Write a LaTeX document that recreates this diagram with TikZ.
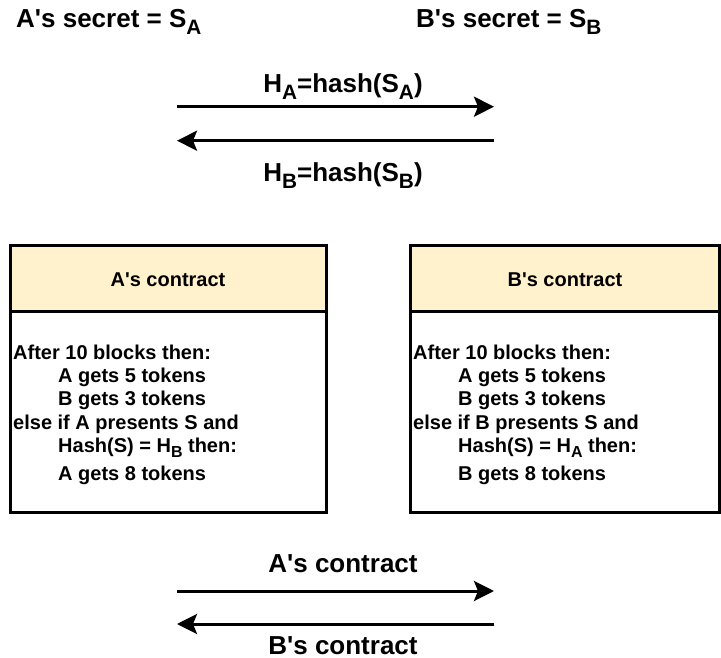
\documentclass[tikz,border=0pt]{standalone}
\usepackage{fontspec}
\setmainfont{Liberation Sans}
\usetikzlibrary{arrows.meta}
\definecolor{hdr}{HTML}{FFF2CC}
\newcommand\subx[1]{\raisebox{-0.25em}{\scalebox{0.8}{#1}}}
\newcommand\ap{\textquotesingle}
\newcommand\bigf{\fontsize{26}{30}\selectfont\bfseries}
\newcommand\midf{\fontsize{20}{23.3}\selectfont\bfseries}
\tikzset{
  lbl/.style={inner sep=0pt, anchor=base, font=\bigf},
  flow/.style={line width=3pt, -{Stealth[length=20pt,width=20pt,inset=4pt]}},
  frame/.style={draw=black, line width=3pt},
  hdrbox/.style={frame, fill=hdr},
  hdrtxt/.style={inner sep=0pt, anchor=base, font=\midf},
  body/.style={inner sep=0pt, anchor=base west, font=\midf},
}
\begin{document}
\begin{tikzpicture}[x=1pt,y=-1pt]
\useasboundingbox (0,0) rectangle (721,658);
% secrets
\node[lbl, anchor=base west] (sa) at (16,28) {A\ap s secret = S\subx{A}};
\node[lbl, anchor=base west] (sb) at (416,28) {B\ap s secret = S\subx{B}};
% hash exchange
\node[lbl] (ha) at (343,93) {H\subx{A}=hash(S\subx{A})};
\node[lbl] (hb) at (343,182) {H\subx{B}=hash(S\subx{B})};
\coordinate (h1l) at (177,106.7);
\coordinate (h1r) at (494,106.7);
\coordinate (h2l) at (177,140.7);
\coordinate (h2r) at (494,140.7);
\draw[flow] (h1l) -- (h1r);
\draw[flow] (h2r) -- (h2l);
% A's contract box
\path[hdrbox] (10.3,246) rectangle (326,311.7);
\path[frame] (10.3,311.7) rectangle (326,512);
\node[hdrtxt] (ah) at (168,287) {A\ap s contract};
\node[body] (a1) at (13,359) {After 10 blocks then:};
\node[body] (a2) at (58,382.3) {A gets 5 tokens};
\node[body] (a3) at (58,405.7) {B gets 3 tokens};
\node[body] (a4) at (13,429) {else if A presents S and};
\node[body] (a5) at (58,452) {Hash(S) = H\subx{B} then:};
\node[body] (a6) at (58,480) {A gets 8 tokens};
% B's contract box
\path[hdrbox] (410.3,246) rectangle (719.3,311.7);
\path[frame] (410.3,311.7) rectangle (719.3,512);
\node[hdrtxt] (bh) at (565,287) {B\ap s contract};
\node[body] (b1) at (413,359) {After 10 blocks then:};
\node[body] (b2) at (458,382.3) {A gets 5 tokens};
\node[body] (b3) at (458,405.7) {B gets 3 tokens};
\node[body] (b4) at (413,429) {else if B presents S and};
\node[body] (b5) at (458,452) {Hash(S) = H\subx{A} then:};
\node[body] (b6) at (458,480) {B gets 8 tokens};
% contract exchange
\node[lbl] (ac) at (343,572) {A\ap s contract};
\node[lbl] (bc) at (343,654) {B\ap s contract};
\coordinate (c1l) at (177,591);
\coordinate (c1r) at (494,591);
\coordinate (c2l) at (177,624);
\coordinate (c2r) at (494,624);
\draw[flow] (c1l) -- (c1r);
\draw[flow] (c2r) -- (c2l);
\end{tikzpicture}
\end{document}
